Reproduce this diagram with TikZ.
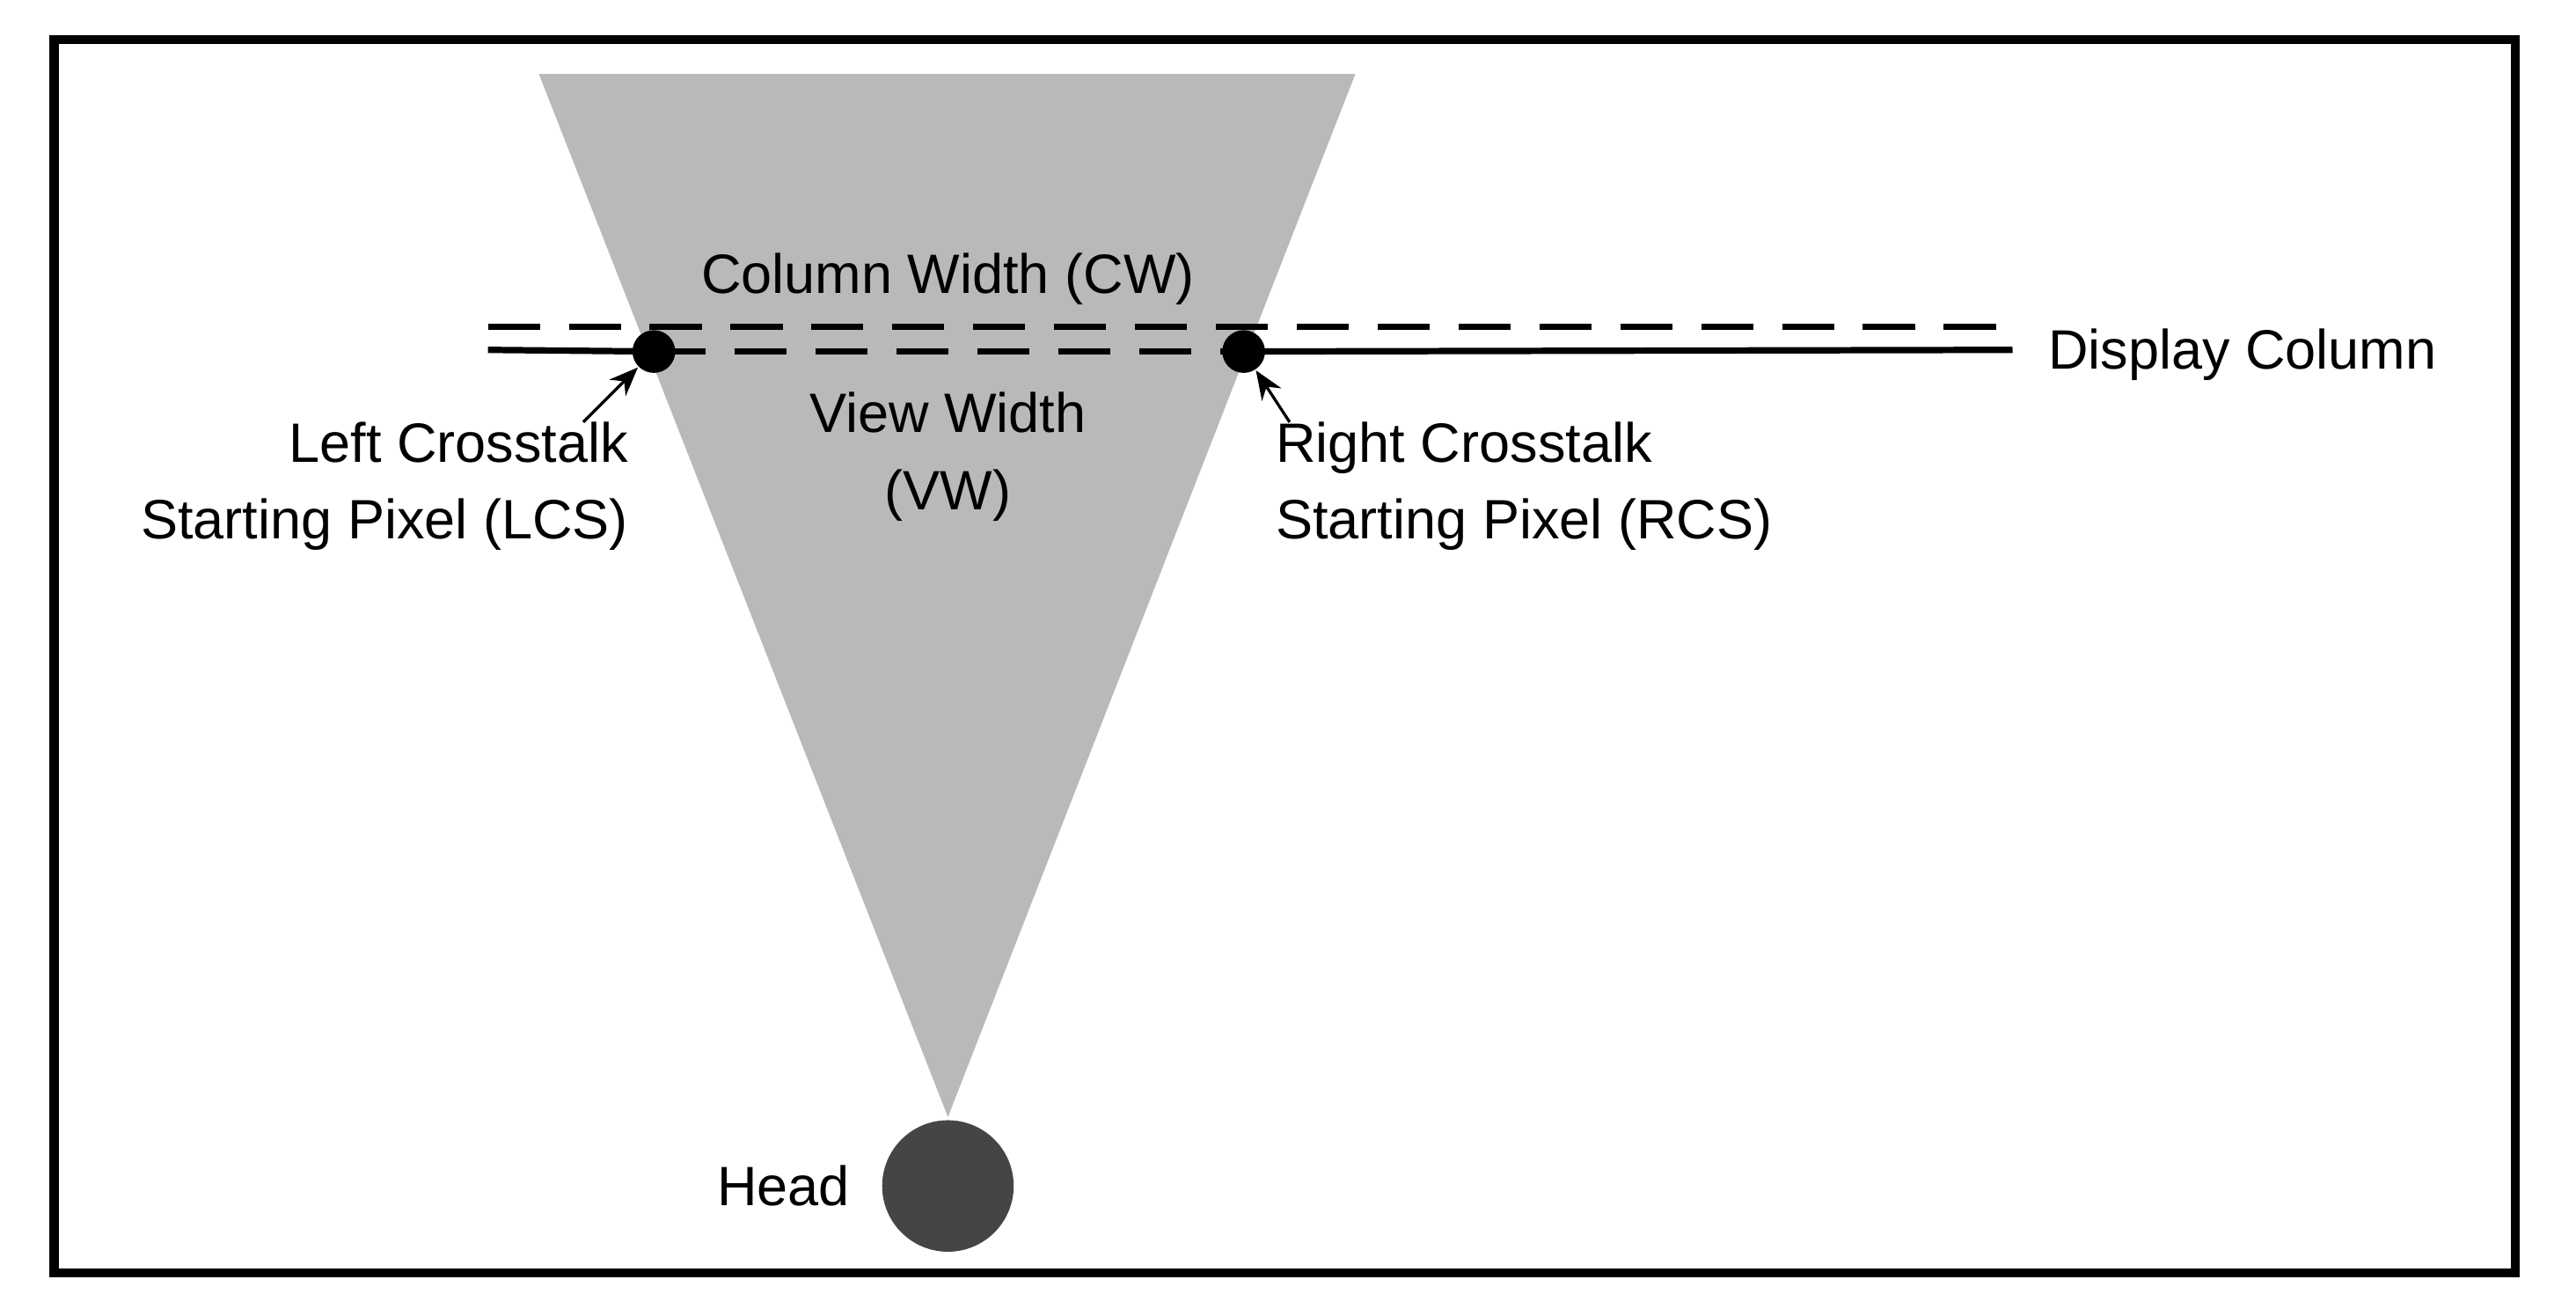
\documentclass[tikz,border=0pt]{standalone}
\usepackage{fontspec}
\setmainfont{Liberation Sans}
\usetikzlibrary{arrows.meta}
\begin{document}
\begin{tikzpicture}[x=0.01cm,y=-0.01cm,
  lbl/.style={font=\fontsize{9.6pt}{13.3pt}\selectfont,inner sep=0pt},
  ln/.style={line width=1.1pt},
  dsh/.style={line width=1.1pt,dash pattern=on 9pt off 5pt},
  dot/.style={circle,fill=black,minimum size=0.26cm,inner sep=0pt},
  ptr/.style={line width=0.5pt,-{Stealth[length=5pt,width=4pt]}}]
\useasboundingbox (0,0) rectangle (1568,801);
\draw[line width=1.6pt] (33,24) rectangle (1531,775);
\fill[gray!55] (328,45) -- (825,45) -- (577,680) -- cycle;
\node[dot] (L) at (398,214) {};
\node[dot] (R) at (757,214) {};
\coordinate (ls) at (297,213);
\coordinate (re) at (1225,213);
\coordinate (ds) at (297,199);
\coordinate (de) at (1222,199);
\draw[ln] (ls) -- (L.center);
\draw[ln] (R.center) -- (re);
\draw[dsh] (L.center) -- (R.center);
\draw[dsh] (ds) -- (de);
\node[circle,fill=black!73,minimum size=0.8cm,inner sep=0pt] (H) at (577,722) {};
\node[lbl] (cw) at (577,170) {Column Width (CW)};
\node[lbl,align=center] (vw) at (577,278) {View Width\\(VW)};
\node[lbl,align=right,anchor=east] (lt) at (383,296) {Left Crosstalk\\Starting Pixel (LCS)};
\node[lbl,align=left,anchor=west] (rt) at (776,296) {Right Crosstalk\\Starting Pixel (RCS)};
\node[lbl,anchor=west] (dc) at (1246,216) {Display Column};
\node[lbl,anchor=east] (hd) at (518,722) {Head};
\coordinate (la) at (355,257);
\coordinate (ra) at (785,257);
\draw[ptr] (la) -- (L);
\draw[ptr] (ra) -- (R);
\end{tikzpicture}
\end{document}
